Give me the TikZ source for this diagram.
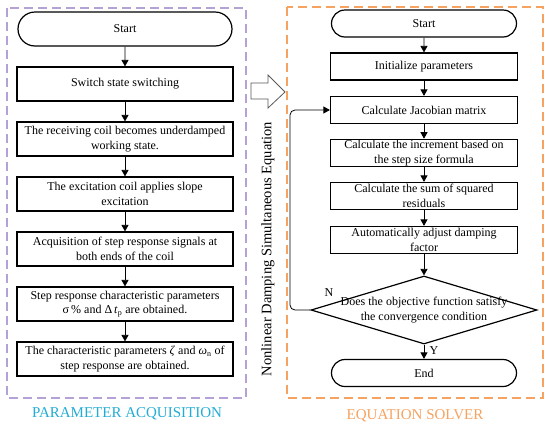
\documentclass[tikz,border=0pt]{standalone}
\usepackage{fontspec}
\setmainfont{Liberation Serif}
\usetikzlibrary{arrows.meta,shapes.misc,shapes.geometric}

\definecolor{lilac}{RGB}{180,162,214}
\definecolor{solverorange}{RGB}{246,162,96}
\definecolor{acqblue}{RGB}{34,172,212}

\begin{document}
\begin{tikzpicture}[x=1pt,y=-1pt,
  every node/.style={font=\fontsize{12}{14.5}\selectfont},
  box/.style={draw,line width=1.2pt,inner sep=1pt,align=center},
  lbox/.style={box,minimum width=216pt,minimum height=34pt},
  rbox/.style={box,minimum width=187pt,minimum height=27pt},
  lterm/.style={lbox,rounded rectangle},
  rterm/.style={rbox,rounded rectangle},
  flow/.style={-{Triangle[length=6.5pt,width=7pt]},line width=0.8pt},
  frame/.style={dash pattern=on 9pt off 5pt,line width=1.3pt}]
\useasboundingbox (0,0) rectangle (550,429);

% dashed frames
\draw[frame,lilac] (7,8) rectangle (246,398);
\draw[frame,solverorange] (287,7) rectangle (543,398);
\node[text=acqblue,font=\fontsize{15}{17}\selectfont] (acq) at (127,414) {PARAMETER ACQUISITION};
\node[text=solverorange,font=\fontsize{15}{17}\selectfont] (solv) at (415,416) {EQUATION SOLVER};

% parameter acquisition
\node[lterm] (s1) at (125,29) {Start};
\node[lbox] (p1) at (125,84) {Switch state switching};
\node[lbox] (p2) at (125,139) {The receiving coil becomes underdamped\\working state.};
\node[lbox] (p3) at (125,194) {The excitation coil applies slope\\excitation};
\node[lbox] (p4) at (125,249) {Acquisition of step response signals at\\both ends of the coil};
\node[lbox] (p5) at (125,304) {Step response characteristic parameters\\σ\,\% and Δ\,\textit{t}\textsubscript{p} are obtained.};
\node[lbox] (p6) at (125,359) {The characteristic parameters \textit{ζ} and \textit{ω}\textsubscript{n} of\\step response are obtained.};
\draw[flow] (s1) -- (p1);
\draw[flow] (p1) -- (p2);
\draw[flow] (p2) -- (p3);
\draw[flow] (p3) -- (p4);
\draw[flow] (p4) -- (p5);
\draw[flow] (p5) -- (p6);

% link between the two parts
\draw[gray!70!black,line width=0.8pt,fill=white] (251,83) -- (268,83) -- (268,75) -- (285,92)
  -- (268,108) -- (268,99) -- (251,99) -- cycle;
\node[rotate=90,font=\fontsize{14.5}{16}\selectfont] (nl) at (268,249) {Nonlinear Damping Simultaneous Equation};

% equation solver
\node[rterm] (s2) at (424,23.5) {Start};
\node[rbox] (q1) at (424,66.5) {Initialize parameters};
\node[rbox] (jac) at (424,110) {Calculate Jacobian matrix};
\node[rbox] (q3) at (424,153) {Calculate the increment based on\\the step size formula};
\node[rbox] (q4) at (424,196) {Calculate the sum of squared\\residuals};
\node[rbox] (q5) at (424,240) {Automatically adjust damping\\factor};
\node[draw,diamond,line width=1.2pt,minimum width=226pt,minimum height=68pt,inner sep=0pt] (dec) at (424,310) {};
\node[align=center] (dect) at (dec.center) {Does the objective function satisfy\\the convergence condition};
\node[rterm] (e2) at (424,373) {End};
\draw[flow] (s2) -- (q1);
\draw[flow] (q1) -- (jac);
\draw[flow] (jac) -- (q3);
\draw[flow] (q3) -- (q4);
\draw[flow] (q4) -- (q5);
\draw[flow] (q5) -- (dec);
\draw[flow] (dec) -- (e2) node[pos=0.45,right=2pt] {Y};
\draw[flow,rounded corners=5pt] (dec.west) -- (290,310) |- (jac.west);
\node (no) at (329,293) {N};
\end{tikzpicture}
\end{document}
